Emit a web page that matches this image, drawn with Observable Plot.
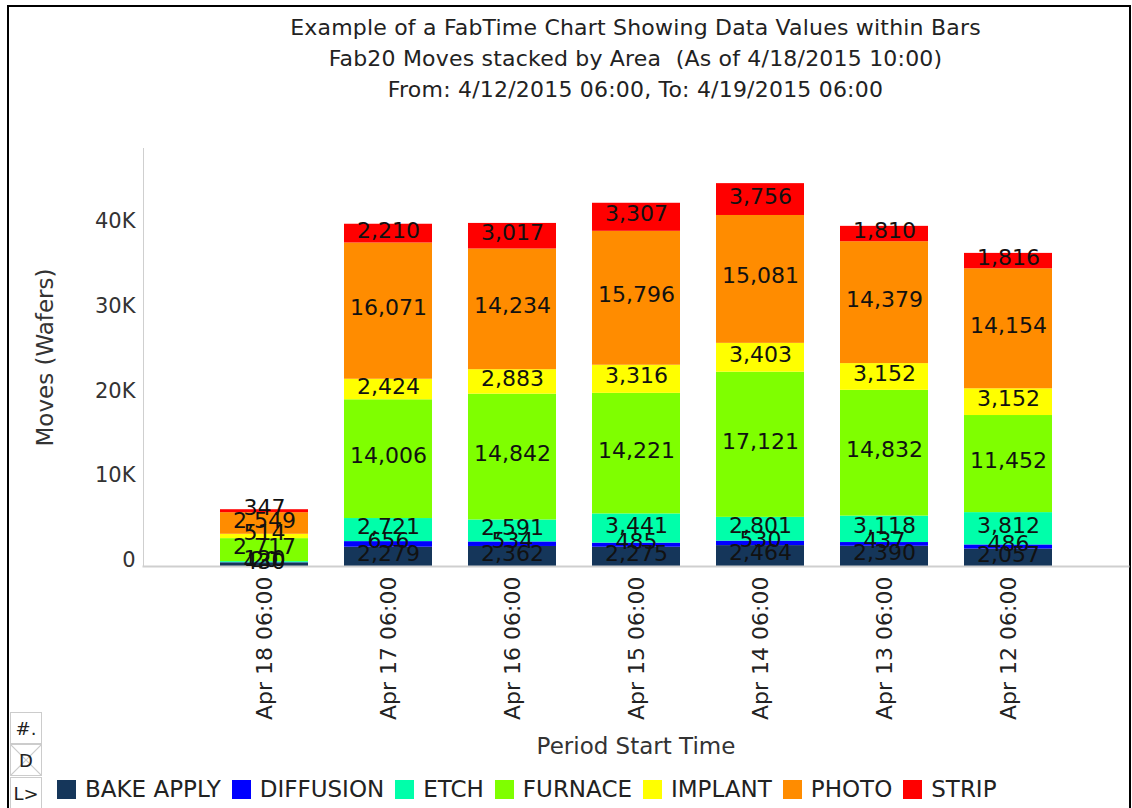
<!DOCTYPE html>
<html><head><meta charset="utf-8">
<script src="https://cdn.jsdelivr.net/npm/d3@7"></script>
<script src="https://cdn.jsdelivr.net/npm/@observablehq/plot@0.6"></script>
<style>
body{margin:0;background:#fff;font-family:"DejaVu Sans",sans-serif;}
#wrap{position:relative;width:1132px;height:808px;overflow:hidden;background:#fff;}
#border{position:absolute;left:7px;top:5px;width:1120px;height:840px;border:2px solid #000;}
#title{position:absolute;left:143px;width:985px;top:12px;text-align:center;font-size:22px;letter-spacing:0.2px;line-height:31px;color:#222;}
#chart{position:absolute;left:0;top:0;}
#legend{position:absolute;left:57px;top:776px;display:flex;align-items:center;font-size:23px;color:#222;white-space:nowrap;}
#legend .it{display:flex;align-items:center;margin-right:11px;}
#legend .sw{width:19px;height:19px;margin-right:9px;}
.ico{position:absolute;left:10px;width:30px;height:30px;border:1px solid #ccc;font-size:18px;color:#222;display:flex;align-items:center;justify-content:center;background:#fff;}
</style></head>
<body>
<div id="wrap">
  <div id="border"></div>
  <div id="title">Example of a FabTime Chart Showing Data Values within Bars<br>Fab20 Moves stacked by Area&nbsp; (As of 4/18/2015 10:00)<br>From: 4/12/2015 06:00, To: 4/19/2015 06:00</div>
  <div id="chart"></div>
  <div id="legend"></div>
  <div class="ico" style="top:712px">#.</div>
  <div class="ico" style="top:744px;background:linear-gradient(45deg,transparent 48%,#ccc 49%,#ccc 51%,transparent 52%),linear-gradient(-45deg,transparent 48%,#ccc 49%,#ccc 51%,transparent 52%)">D</div>
  <div class="ico" style="top:777px">L&gt;</div>
</div>
<script>
const periods = ["Apr 18 06:00","Apr 17 06:00","Apr 16 06:00","Apr 15 06:00","Apr 14 06:00","Apr 13 06:00","Apr 12 06:00"];
const areas = ["BAKE APPLY","DIFFUSION","ETCH","FURNACE","IMPLANT","PHOTO","STRIP"];
const areaColors = ["#15365a","#0000ff","#00ffaa","#7fff00","#ffff00","#ff8c00","#ff0000"];
const bakeApply = [430, 2279, 2362, 2275, 2464, 2390, 2057];
const diffusion = [20, 656, 534, 485, 530, 437, 486];
const etch = [120, 2721, 2591, 3441, 2801, 3118, 3812];
const furnace = [2717, 14006, 14842, 14221, 17121, 14832, 11452];
const implant = [514, 2424, 2883, 3316, 3403, 3152, 3152];
const photo = [2549, 16071, 14234, 15796, 15081, 14379, 14154];
const strip = [347, 2210, 3017, 3307, 3756, 1810, 1816];
const yTicks = [0, 10000, 20000, 30000, 40000];
const yTickLabels = ["0", "10K", "20K", "30K", "40K"];
const yTitle = "Moves (Wafers)";
const xTitle = "Period Start Time";

const seriesValues = [bakeApply, diffusion, etch, furnace, implant, photo, strip];
const data = periods.flatMap((p, i) => areas.map((a, j) => ({period: p, area: a, value: seriesValues[j][i]})));
const fmt = d3.format(",");
const FONT = '"DejaVu Sans",sans-serif';

const chart = Plot.plot({
  width: 1132, height: 770,
  marginLeft: 143, marginRight: 4, marginTop: 148, marginBottom: 204,
  style: {fontFamily: FONT, fontSize: "20px", color: "#333", background: "transparent", overflow: "visible"},
  x: {domain: periods, range: [202, 1070], paddingInner: 0.29, paddingOuter: 0.145, align: 0.5},
  y: {domain: [0, 49300]},
  color: {domain: areas, range: areaColors},
  marks: [
    Plot.barY(data, {x: "period", y: "value", fill: "area", order: areas}),
    Plot.frame({anchor: "left", stroke: "#cfcfcf", strokeOpacity: 1}),
    Plot.frame({anchor: "bottom", stroke: "#cfcfcf", strokeOpacity: 1, strokeWidth: 2}),
    Plot.text(data, Plot.stackY({x: "period", y: "value", z: "area", order: areas,
      text: d => fmt(d.value), fontSize: 22, fill: "#111", dy: -3})),
    Plot.axisY({ticks: yTicks, tickFormat: (d) => yTickLabels[yTicks.indexOf(d)], tickSize: 0, tickPadding: 8,
      fontSize: 21, dy: -6, fill: "#333", label: null}),
    Plot.axisX({tickRotate: -90, tickSize: 0, tickPadding: 10, fontSize: 22, fill: "#222", label: null}),
    Plot.text([yTitle], {text: d => d, frameAnchor: "left", textAnchor: "middle", dx: -98, rotate: -90, fontSize: 23, fill: "#333"}),
    Plot.text([xTitle], {text: d => d, frameAnchor: "bottom", textAnchor: "middle", dy: 187, fontSize: 23, fill: "#333"})
  ]
});
document.getElementById("chart").appendChild(chart);

const legend = document.getElementById("legend");
areas.forEach((a, i) => {
  const it = document.createElement("div"); it.className = "it";
  const sw = document.createElement("div"); sw.className = "sw"; sw.style.background = areaColors[i];
  const tx = document.createElement("span"); tx.textContent = a;
  it.appendChild(sw); it.appendChild(tx); legend.appendChild(it);
});
</script>
</body></html>
